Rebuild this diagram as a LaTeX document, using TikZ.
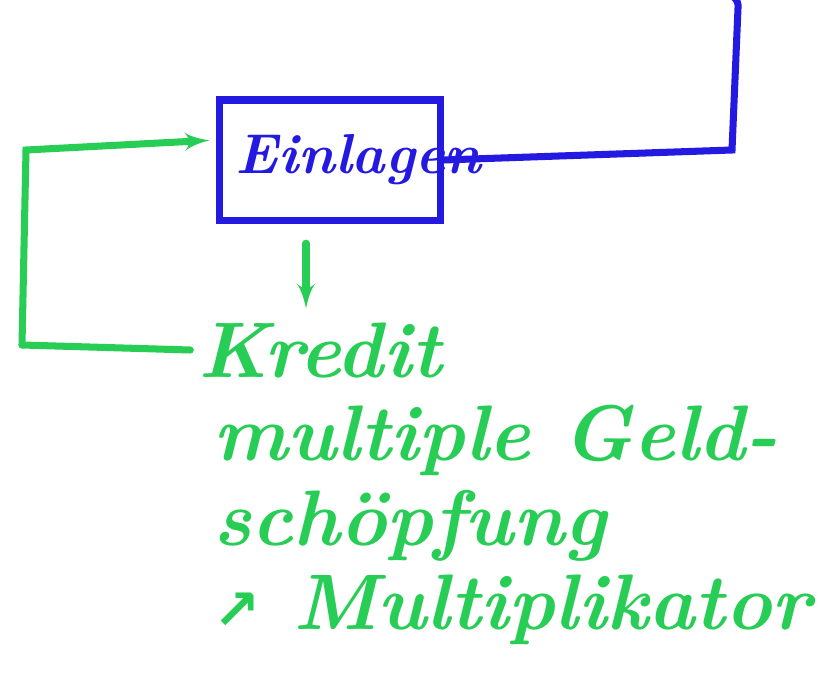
\documentclass[tikz,border=0pt]{standalone}
\usepackage{tikz}
\usetikzlibrary{arrows}
\usepackage{fontspec}
\usepackage{xcolor}
\newfontfamily\pfeilfont{DejaVu Sans}
\definecolor{penblue}{RGB}{35,25,225}
\definecolor{pengreen}{RGB}{40,205,85}
\newcommand{\hand}{\fontsize{56}{60}\selectfont\bfseries\itshape}

\begin{document}
\begin{tikzpicture}[x=0.025cm, y=-0.025cm, >=latex', line width=5pt, line cap=round]
      \useasboundingbox (0,0) rectangle (820,683);
      \node [draw=penblue, text=penblue, minimum width=5.5cm, minimum height=3cm, inner sep=1pt, name=einl] at (330,160)
      {\fontsize{40}{46}\selectfont\bfseries\itshape\makebox[5.3cm][l]{\hspace{0.3cm}Einlagen}};
      \node [text=pengreen, font=\hand, name=kredit] at (320,350) {Kredit};
      \node [text=pengreen, font=\hand, align=left, anchor=north west, inner sep=0pt, name=geld] at (210,402)
      {multiple Geld-\\ schöpfung\\ {\pfeilfont\fontsize{40}{60}\selectfont ↗} Multiplikator};

      % blue line leaves the box to the right and up
      \coordinate (blauecke) at (732,150);
      \coordinate (blauoben) at (738,8);
      \coordinate (blauende) at (680,-20);
      \draw [penblue] (einl.east) -- (blauecke) -- (blauoben)
      .. controls (740,-8) and (715,-12) .. (blauende);

      % green loop back to the box
      \coordinate (gruenunten) at (22,345);
      \coordinate (gruenoben) at (26,150);
      \draw [pengreen] (kredit.west) -- (gruenunten);
      \draw [pengreen, ->, shorten >=5pt] (gruenunten) -- (gruenoben) -- (einl.170);

      \draw [pengreen, ->, shorten <=14pt, shorten >=4pt] ([xshift=-0.35cm]kredit.north |- einl.south) -- ([xshift=-0.35cm]kredit.north);
\end{tikzpicture}
\end{document}
